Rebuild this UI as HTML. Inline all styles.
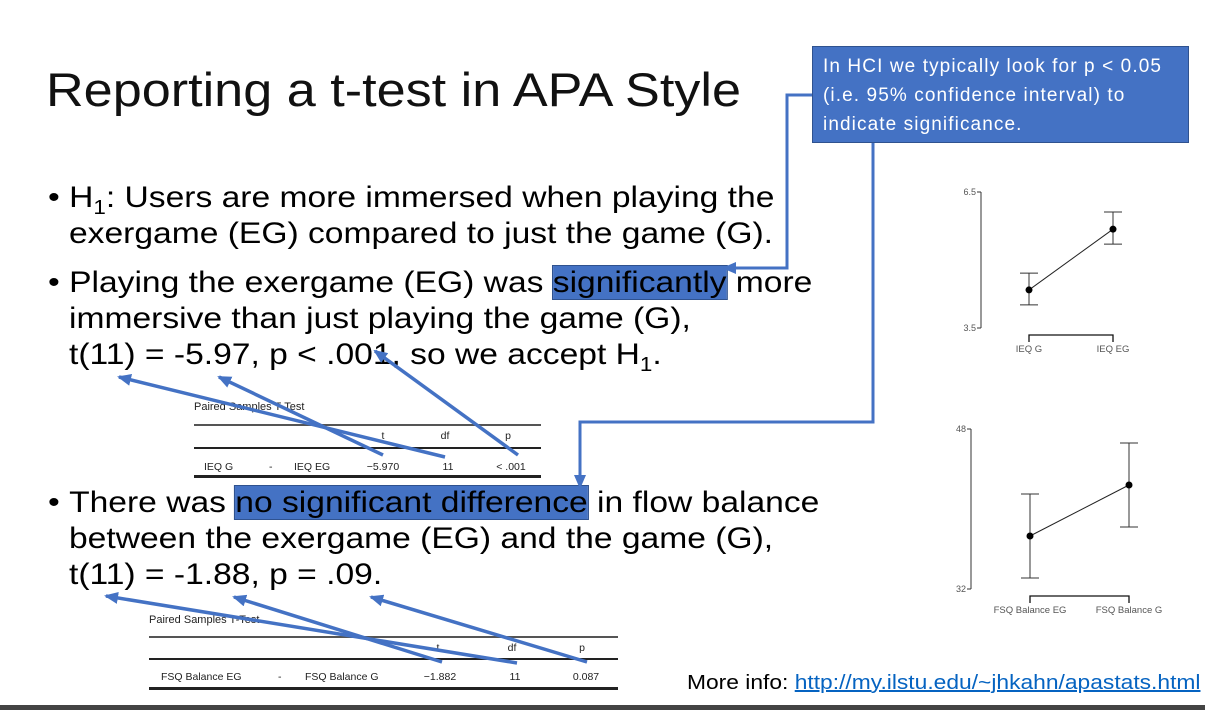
<!DOCTYPE html>
<html><head><meta charset="utf-8"><style>
body{margin:0;width:1205px;height:710px;background:#fff;position:relative;overflow:hidden;font-family:"Liberation Sans",sans-serif}
.t{position:absolute;white-space:nowrap;color:#000;transform-origin:0 0}
.big{font-size:30px;line-height:36px;transform:scaleX(1.12)}
.hl{background:#4472c4;outline:1.5px solid #2f528f}
.c{position:absolute;font-size:10.5px;color:#222;white-space:nowrap;transform:translateX(-50%)}
.l{position:absolute;font-size:10.5px;color:#222;white-space:nowrap}
.hr{position:absolute;background:#222}
</style></head><body>
<div class="t" style="left:46px;top:62px;font-size:47px;color:#111;transform:scaleX(1.11)">Reporting a t-test in APA Style</div>
<div class="t" style="left:812px;top:46px;width:377px;height:97px;background:#4472c4;border:1px solid #2f528f;color:#fff;font-size:19px;letter-spacing:1.1px;line-height:29px;padding:5px 12px 0 10px;box-sizing:border-box;white-space:normal">In HCI we typically look for p &lt; 0.05 (i.e. 95% confidence interval) to indicate significance.</div>
<div class="t big" style="left:48px;top:180px">•&nbsp;H<sub style="font-size:20px">1</sub>: Users are more immersed when playing the</div>
<div class="t big" style="left:69px;top:216px">exergame (EG) compared to just the game (G).</div>
<div class="t big" style="left:48px;top:265px">•&nbsp;Playing the exergame (EG) was <span class="hl">significantly</span> more</div>
<div class="t big" style="left:69px;top:301px">immersive than just playing the game (G),</div>
<div class="t big" style="left:69px;top:337px">t(11) = -5.97, p &lt; .001, so we accept H<sub style="font-size:20px">1</sub>.</div>
<div class="t big" style="left:48px;top:485px">•&nbsp;There was <span class="hl">no significant difference</span> in flow balance</div>
<div class="t big" style="left:69px;top:521px">between the exergame (EG) and the game (G),</div>
<div class="t big" style="left:69px;top:557px">t(11) = -1.88, p = .09.</div>

<div>
<div class="l" style="left:194px;top:401px;font-size:11px">Paired Samples T-Test</div>
<div class="hr" style="left:194px;top:424px;width:347px;height:1.5px;background:#555"></div>
<div class="c" style="left:383px;top:430px">t</div><div class="c" style="left:445px;top:430px">df</div><div class="c" style="left:508px;top:430px">p</div>
<div class="hr" style="left:194px;top:447px;width:347px;height:1.5px"></div>
<div class="l" style="left:204px;top:461px">IEQ G</div><div class="l" style="left:269px;top:461px">-</div><div class="l" style="left:294px;top:461px">IEQ EG</div>
<div class="c" style="left:383px;top:461px">−5.970</div><div class="c" style="left:448px;top:461px">11</div><div class="c" style="left:511px;top:461px">&lt; .001</div>
<div class="hr" style="left:194px;top:475px;width:347px;height:2.5px"></div>
</div>
<div>
<div class="l" style="left:149px;top:614px;font-size:11px">Paired Samples T-Test</div>
<div class="hr" style="left:149px;top:636px;width:469px;height:1.5px;background:#555"></div>
<div class="c" style="left:438px;top:642px">t</div><div class="c" style="left:512px;top:642px">df</div><div class="c" style="left:582px;top:642px">p</div>
<div class="hr" style="left:149px;top:658px;width:469px;height:1.5px"></div>
<div class="l" style="left:161px;top:671px">FSQ Balance EG</div><div class="l" style="left:278px;top:671px">-</div><div class="l" style="left:305px;top:671px">FSQ Balance G</div>
<div class="c" style="left:440px;top:671px">−1.882</div><div class="c" style="left:515px;top:671px">11</div><div class="c" style="left:586px;top:671px">0.087</div>
<div class="hr" style="left:149px;top:687px;width:469px;height:2.5px"></div>
</div>

<div class="t" style="left:687px;top:672px;font-size:20px;transform:scaleX(1.14)">More info: <a style="color:#0563c1;text-decoration:underline">http://my.ilstu.edu/~jhkahn/apastats.html</a></div>
<div style="position:absolute;left:0;top:705px;width:1205px;height:5px;background:#444"></div>

<svg id="ov" width="1205" height="710" style="position:absolute;left:0;top:0">
<defs><marker id="ah" markerUnits="userSpaceOnUse" markerWidth="14" markerHeight="12" refX="12" refY="6" orient="auto"><path d="M0,0L14,6L0,12z" fill="#4472c4"/></marker></defs>
<g stroke="#4472c4" stroke-width="3.5" fill="none">
<polyline points="812,95 787,95 787,268 724,268" marker-end="url(#ah)" stroke-width="3"/>
<polyline points="873,143 873,422 580,422 580,487" marker-end="url(#ah)" stroke-width="3"/>
<line x1="445" y1="457" x2="119" y2="377" marker-end="url(#ah)"/>
<line x1="383" y1="455" x2="219" y2="377" marker-end="url(#ah)"/>
<line x1="518" y1="455" x2="375" y2="351" marker-end="url(#ah)"/>
<line x1="517" y1="663" x2="106" y2="596" marker-end="url(#ah)"/>
<line x1="442" y1="662" x2="234" y2="597" marker-end="url(#ah)"/>
<line x1="587" y1="662" x2="371" y2="597" marker-end="url(#ah)"/>
</g>
<g id="c1"></g>
<g id="c2"></g>
</svg>
<script>
const ieqCats=["IEQ G","IEQ EG"];
const ieqMeans=[4.34,5.68];
const ieqLo=[4.01,5.35];
const ieqHi=[4.71,6.06];
const ieqTicks=[3.5,6.5];
const fsqCats=["FSQ Balance EG","FSQ Balance G"];
const fsqMeans=[37.3,42.4];
const fsqLo=[33.1,38.2];
const fsqHi=[41.5,46.6];
const fsqTicks=[32,48];
const NS="http://www.w3.org/2000/svg";
function mk(g,tag,a){const e=document.createElementNS(NS,tag);for(const k in a)e.setAttribute(k,a[k]);g.appendChild(e);return e;}
function chart(gid,cats,means,lo,hi,ticks,ax,yTop,yBot,x0,x1,pre){
 const g=document.getElementById(gid);
 const y=v=>yBot-(v-ticks[0])/(ticks[1]-ticks[0])*(yBot-yTop);
 const x=i=>x0+i*(x1-x0);
 let e=mk(g,'line',{x1:ax,y1:yTop,x2:ax,y2:yBot,stroke:'#333','stroke-width':1});
 
 ticks.forEach(t=>{mk(g,'line',{x1:ax-4,y1:y(t),x2:ax,y2:y(t),stroke:'#333'});
  e=mk(g,'text',{x:ax-5,y:y(t)+3,'text-anchor':'end','font-size':9,fill:'#555'});e.textContent=t;
  });
 e=mk(g,'polyline',{points:`${x(0)},${yBot+14} ${x(0)},${yBot+7} ${x(1)},${yBot+7} ${x(1)},${yBot+14}`,fill:'none',stroke:'#111','stroke-width':1.3});
 
 cats.forEach((c,i)=>{e=mk(g,'text',{x:x(i),y:yBot+24,'text-anchor':'middle','font-size':9.5,fill:'#555'});e.textContent=c;
  });
 e=mk(g,'line',{x1:x(0),y1:y(means[0]),x2:x(1),y2:y(means[1]),stroke:'#222','stroke-width':1});
 
 means.forEach((m,i)=>{
  e=mk(g,'path',{d:`M${x(i)-9},${y(hi[i])}H${x(i)+9}M${x(i)},${y(hi[i])}V${y(lo[i])}M${x(i)-9},${y(lo[i])}H${x(i)+9}`,stroke:'#333',fill:'none'});
  
  e=mk(g,'circle',{cx:x(i),cy:y(m),r:3.5,fill:'#000'});
  });
}
chart('c1',ieqCats,ieqMeans,ieqLo,ieqHi,ieqTicks,981,192,328,1029,1113,'ieq');
chart('c2',fsqCats,fsqMeans,fsqLo,fsqHi,fsqTicks,971,429,589,1030,1129,'fsq');
</script>
</body></html>
